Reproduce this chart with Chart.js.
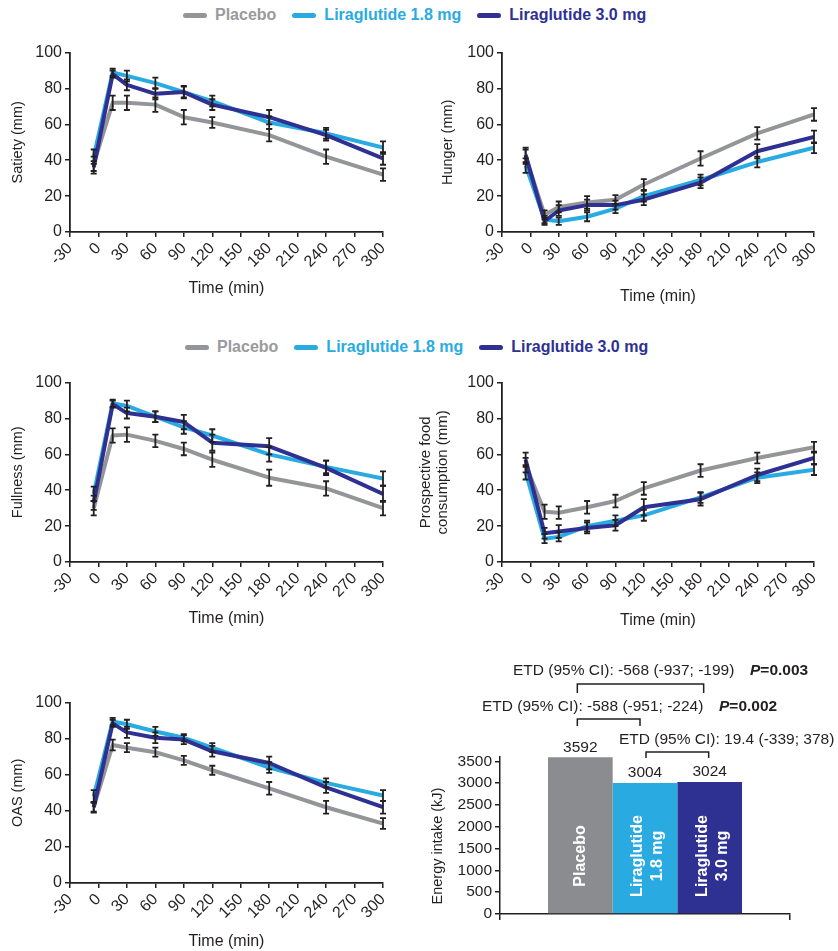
<!DOCTYPE html>
<html>
<head>
<meta charset="utf-8">
<script src="https://cdn.jsdelivr.net/npm/chart.js@4.4.1/dist/chart.umd.min.js"></script>
<style>
  body { margin: 0; width: 838px; height: 951px; overflow: hidden; background: #fff; font-family: "Liberation Sans", Arial, sans-serif; }
  canvas { position: absolute; }
  .legend { position: absolute; display: flex; align-items: center; font-weight: bold; font-size: 16px; white-space: nowrap; line-height: 18px; }
  .legend .item { display: flex; align-items: center; margin-right: 16px; }
  .legend .sw { display: inline-block; width: 24px; height: 5px; border-radius: 3px; margin-right: 8px; }
</style>
</head>
<body>
<div class="legend" id="legend1" style="left:183px;top:6px"></div>
<div class="legend" id="legend2" style="left:185px;top:338px"></div>
<canvas id="satiety" width="410" height="270" style="left:0;top:40px"></canvas>
<canvas id="hunger" width="428" height="270" style="left:410px;top:40px"></canvas>
<canvas id="fullness" width="410" height="270" style="left:0;top:370px"></canvas>
<canvas id="prospective" width="428" height="270" style="left:410px;top:370px"></canvas>
<canvas id="oas" width="410" height="261" style="left:0;top:690px"></canvas>
<canvas id="energy" width="418" height="301" style="left:420px;top:650px"></canvas>
<script>
// time points (min)
const times = [-5, 15, 30, 60, 90, 120, 180, 240, 300];
const groups = ["Placebo", "Liraglutide 1.8 mg", "Liraglutide 3.0 mg"];

// rows: placebo, liraglutide 1.8 mg, liraglutide 3.0 mg
const satiety = [
  [38, 72, 72, 71, 64, 61, 54, 42, 32],
  [42, 89, 87, 83, 78, 73, 61, 55, 47],
  [36, 88, 82, 77, 78, 71, 64, 54, 41]
];
const satietySem = [
  [4, 4, 4, 4, 4, 3, 3.5, 4, 3.5],
  [4, 2, 3, 3, 3, 3, 3.5, 3, 3.5],
  [3.5, 2, 3, 3, 3.5, 3, 4, 3, 3.5]
];
const hunger = [
  [42, 9.5, 14, 16.5, 18, 26.5, 41, 55, 65.5],
  [37, 7, 6, 8.5, 13, 20, 29, 39, 47],
  [43, 6, 12, 15, 15, 18, 27.5, 45, 53]
];
const hungerSem = [
  [4, 2.5, 3, 3.5, 2.5, 3, 4, 3.5, 3.5],
  [4, 2, 2, 2.5, 2.5, 3, 3, 3, 3],
  [4, 2, 3, 3, 2.5, 3, 3, 4, 3.5]
];
const fullness = [
  [30, 70.5, 71, 67.5, 63, 57, 47, 41, 30],
  [38, 88.5, 87, 81, 75, 70.5, 60, 53, 46.5],
  [33, 88, 83, 81, 78, 66.5, 64.5, 52.5, 38]
];
const fullnessSem = [
  [4, 4, 4, 3.5, 3.5, 4, 4.5, 4, 4],
  [4, 2, 3, 3, 3.5, 3.5, 4, 3.5, 4],
  [4, 2, 3, 3, 4, 4.5, 4.5, 4, 4.5]
];
const prospective = [
  [54, 28, 27.5, 30.5, 34, 41, 51, 58, 64],
  [50, 13, 14, 20, 23, 26, 36, 47, 51.5],
  [57, 16, 17, 19, 20.5, 30.5, 35, 48.5, 58]
];
const prospectiveSem = [
  [4, 4, 3.5, 3.5, 3.5, 3.5, 3.5, 3, 3],
  [4, 2.5, 2.5, 3, 3, 3, 3, 3, 3],
  [4, 3, 3.5, 3, 3, 4.5, 3.5, 3.5, 3.5]
];
const oas = [
  [42, 76.5, 75, 72.5, 68, 62.5, 52.5, 42, 33],
  [48, 89.5, 88, 84, 80.5, 75, 64, 55.5, 48.5],
  [42, 88.5, 83.5, 80.5, 79.5, 73, 66.5, 53, 42]
];
const oasSem = [
  [3, 3, 2.5, 2.5, 2.5, 2.5, 3.5, 3.5, 3],
  [3.5, 2, 2.5, 2.5, 2, 2.5, 3, 2.5, 3],
  [2.5, 2, 3, 3, 2.5, 3, 3.5, 3, 3.5]
];

// energy intake (kJ)
const energy = [3592, 3004, 3024];
const energyTicks = [0, 500, 1000, 1500, 2000, 2500, 3000, 3500];
const barText = [["Placebo"], ["Liraglutide", "1.8 mg"], ["Liraglutide", "3.0 mg"]];
const etd = [
  ["ETD (95% CI): -568 (-937; -199)", "0.003"],
  ["ETD (95% CI): -588 (-951; -224)", "0.002"],
  ["ETD (95% CI): 19.4 (-339; 378)", null]
];

const colors = ["#939598", "#29abe2", "#2e3192"];
const ink = "#231f20";
const fontFamily = '"Liberation Sans", Arial, sans-serif';
Chart.defaults.font.family = fontFamily;

// legends
["legend1", "legend2"].forEach(id => {
  const el = document.getElementById(id);
  groups.forEach((g, i) => {
    const item = document.createElement("div");
    item.className = "item";
    item.innerHTML = `<span class="sw" style="background:${colors[i]}"></span><span style="color:${i == 0 ? "#999a9c" : colors[i]}">${g}</span>`;
    el.appendChild(item);
  });
});

// error bars
const errorBars = {
  id: "errorBars",
  afterDatasetsDraw(chart) {
    const ctx = chart.ctx;
    const y = chart.scales.y;
    ctx.save();
    ctx.strokeStyle = ink;
    ctx.lineWidth = 1.8;
    chart.data.datasets.forEach((ds, i) => {
      chart.getDatasetMeta(i).data.forEach((pt, j) => {
        const v = ds.data[j].y;
        const top = y.getPixelForValue(v + ds.sem[j]);
        const bot = y.getPixelForValue(v - ds.sem[j]);
        ctx.beginPath();
        ctx.moveTo(pt.x, top); ctx.lineTo(pt.x, bot);
        ctx.moveTo(pt.x - 3, top); ctx.lineTo(pt.x + 3, top);
        ctx.moveTo(pt.x - 3, bot); ctx.lineTo(pt.x + 3, bot);
        ctx.stroke();
      });
    });
    ctx.restore();
  }
};

function lineChart(id, title, series, sems, o) {
  new Chart(document.getElementById(id), {
    type: "line",
    data: {
      datasets: series.map((vals, i) => ({
        label: groups[i],
        data: times.map((t, j) => ({ x: t, y: vals[j] })),
        sem: sems[i],
        borderColor: colors[i],
        borderWidth: 4,
        pointRadius: 0,
        tension: 0,
        borderJoinStyle: "round",
        order: 2 - i
      }))
    },
    options: {
      responsive: false,
      animation: false,
      devicePixelRatio: 1,
      layout: { padding: { top: 11, right: o.right, left: 0, bottom: 0 } },
      plugins: { legend: { display: false }, tooltip: { enabled: false } },
      scales: {
        x: {
          type: "linear", min: -30, max: 300,
          afterFit: s => { s.height = o.xh; },
          border: { color: ink, width: 1.8 },
          grid: { drawOnChartArea: false, color: ink, tickLength: 5, lineWidth: 1.5 },
          ticks: { stepSize: 30, autoSkip: false, minRotation: 45, maxRotation: 45, color: ink, font: { size: 16 }, padding: 2 },
          title: { display: true, text: "Time (min)", color: ink, font: { size: 16 }, padding: { top: 0, bottom: o.xpad } }
        },
        y: {
          min: 0, max: 100,
          afterFit: s => { s.width = o.yw; },
          border: { color: ink, width: 1.8 },
          grid: { drawOnChartArea: false, color: ink, tickLength: 5, lineWidth: 1.5 },
          ticks: { stepSize: 20, color: ink, font: { size: 16 }, padding: 3 },
          title: { display: true, text: title, color: ink, font: { size: o.tsize, lineHeight: 1.1 }, padding: { top: o.ypad, bottom: 0 } }
        }
      }
    },
    plugins: [errorBars]
  });
}

lineChart("satiety", "Satiety (mm)", satiety, satietySem, { right: 27, xh: 78, yw: 70, xpad: 12, ypad: 10, tsize: 14.5 });
lineChart("hunger", "Hunger (mm)", hunger, hungerSem, { right: 24, xh: 78, yw: 92, xpad: 4, ypad: 30, tsize: 14.5 });
lineChart("fullness", "Fullness (mm)", fullness, fullnessSem, { right: 27, xh: 78, yw: 70, xpad: 12, ypad: 10, tsize: 14.5 });
lineChart("prospective", ["Prospective food", "consumption (mm)"], prospective, prospectiveSem, { right: 24, xh: 78, yw: 92, xpad: 10, ypad: 8, tsize: 15 });
lineChart("oas", "OAS (mm)", oas, oasSem, { right: 27, xh: 68, yw: 70, xpad: 0, ypad: 10, tsize: 14.5 });

// labels, brackets and ETD text for the energy bars
const energyLabels = {
  id: "energyLabels",
  afterDatasetsDraw(chart) {
    const ctx = chart.ctx;
    const area = chart.chartArea;
    const bars = chart.data.datasets.map((ds, i) => chart.getDatasetMeta(i).data[0]);
    ctx.save();
    ctx.fillStyle = ink;
    ctx.textAlign = "center";
    ctx.textBaseline = "middle";
    ctx.font = "15.5px " + fontFamily;
    bars.forEach((b, i) => ctx.fillText(String(energy[i]), b.x, b.y - 10));

    ctx.fillStyle = "#fff";
    ctx.font = "bold 16px " + fontFamily;
    bars.forEach((b, i) => {
      const lines = barText[i];
      ctx.save();
      ctx.translate(b.x + (lines.length > 1 ? 3 : 0), area.bottom - 58);
      ctx.rotate(-Math.PI / 2);
      lines.forEach((t, k) => ctx.fillText(t, 0, (k - (lines.length - 1) / 2) * 20));
      ctx.restore();
    });

    // y title
    ctx.fillStyle = ink;
    ctx.font = "14.5px " + fontFamily;
    ctx.save();
    ctx.translate(18, area.bottom - 68);
    ctx.rotate(-Math.PI / 2);
    ctx.fillText("Energy intake (kJ)", 0, 0);
    ctx.restore();

    // brackets
    ctx.strokeStyle = ink;
    ctx.lineWidth = 1.5;
    const bracket = (x1, x2, top, drop) => {
      ctx.beginPath();
      ctx.moveTo(x1, top + drop); ctx.lineTo(x1, top); ctx.lineTo(x2, top); ctx.lineTo(x2, top + drop);
      ctx.stroke();
    };
    bracket(bars[0].x - 3, bars[2].x - 6, area.top - 73, 9);
    bracket(bars[0].x - 3, bars[1].x - 5, area.top - 38, 7);
    bracket(bars[1].x + 1, bars[2].x - 1, area.top - 5, 6);

    // ETD text
    const rows = [[93, area.top - 86, 330], [62, area.top - 50, 299], [199, area.top - 17, 0]];
    ctx.textAlign = "left";
    rows.forEach((r, i) => {
      ctx.font = "15.5px " + fontFamily;
      ctx.fillText(etd[i][0], r[0], r[1]);
      if (etd[i][1]) {
        ctx.font = "italic bold 15.5px " + fontFamily;
        ctx.fillText("P", r[2], r[1]);
        const w = ctx.measureText("P").width;
        ctx.font = "bold 15.5px " + fontFamily;
        ctx.fillText("=" + etd[i][1], r[2] + w, r[1]);
      }
    });
    ctx.restore();
  }
};

new Chart(document.getElementById("energy"), {
  type: "bar",
  data: {
    labels: [""],
    datasets: groups.map((g, i) => ({
      label: g,
      data: [energy[i]],
      backgroundColor: ["#8b8c8f", "#29abe2", "#2e3192"][i],
      categoryPercentage: 0.669,
      barPercentage: 1
    }))
  },
  options: {
    responsive: false,
    animation: false,
    devicePixelRatio: 1,
    layout: { padding: { top: 107, right: 48, left: 0, bottom: 0 } },
    plugins: { legend: { display: false }, tooltip: { enabled: false } },
    scales: {
      x: {
        afterFit: s => { s.height = 37; },
        border: { color: ink, width: 1.5 },
        grid: { drawOnChartArea: false, color: ink, tickLength: 6, lineWidth: 1.5, offset: true },
        ticks: { display: false }
      },
      y: {
        min: 0, max: 3600,
        afterBuildTicks: s => { s.ticks = energyTicks.map(v => ({ value: v })); },
        afterFit: s => { s.width = 80; },
        border: { color: ink, width: 1.5 },
        grid: { drawOnChartArea: false, color: ink, tickLength: 5, lineWidth: 1.5 },
        ticks: { color: ink, font: { size: 15.5 }, padding: 3, callback: v => String(v) }
      }
    }
  },
  plugins: [energyLabels]
});
</script>
</body>
</html>
